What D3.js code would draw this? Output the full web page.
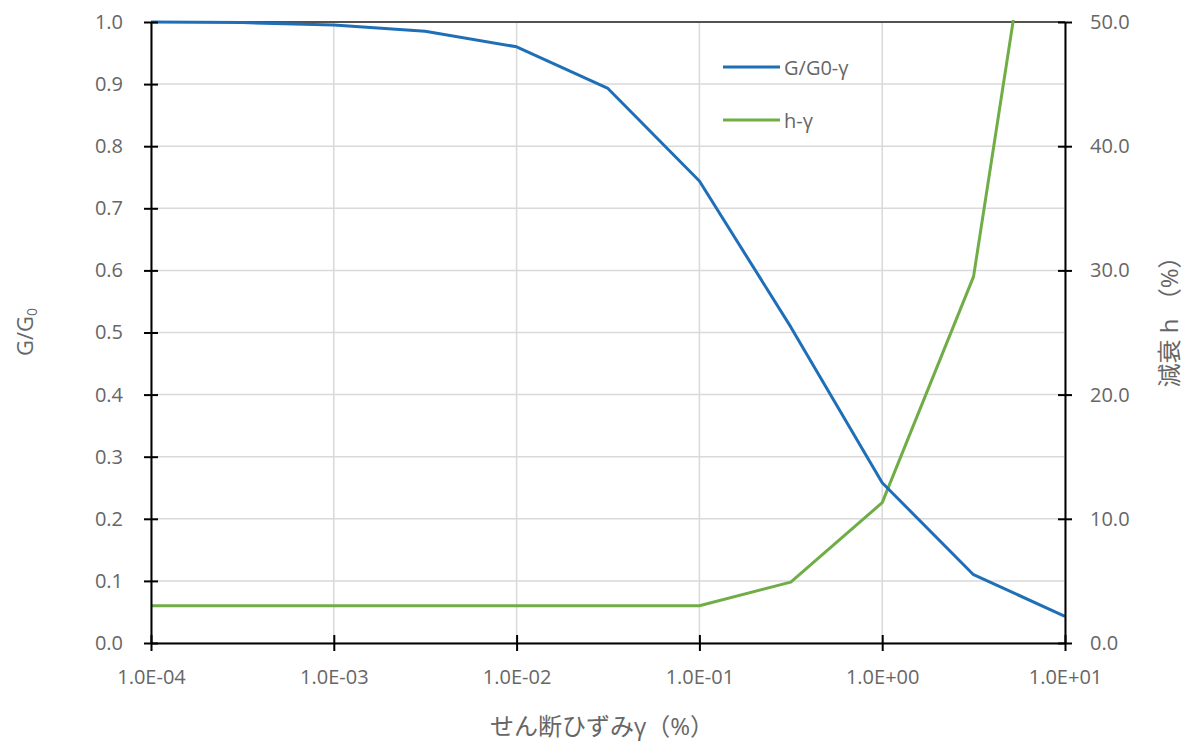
<!DOCTYPE html>
<html><head><meta charset="utf-8">
<script src="https://cdn.jsdelivr.net/npm/d3@7"></script>
<style>body{margin:0;background:#fff}svg text{font-family:"Open Sans","Noto Sans CJK JP",sans-serif;fill:#666}</style>
</head><body><svg id="c" width="1195" height="742"></svg>
<script>
const strain = [1e-4, 3.16e-4, 1e-3, 3.16e-3, 1e-2, 3.16e-2, 1e-1, 3.16e-1, 1, 3.16, 10];
const gRatio = [1.0, 0.999, 0.995, 0.985, 0.96, 0.893, 0.744, 0.509, 0.258, 0.11, 0.043];
const damping = [3.0, 3.0, 3.0, 3.0, 3.0, 3.0, 3.0, 4.9, 11.3, 29.5, 77];
const xTicks = [1e-4, 1e-3, 1e-2, 1e-1, 1, 10];
const xTickLabels = ["1.0E-04","1.0E-03","1.0E-02","1.0E-01","1.0E+00","1.0E+01"];
const yTicks = [0,0.1,0.2,0.3,0.4,0.5,0.6,0.7,0.8,0.9,1.0];
const y2Ticks = [0,10,20,30,40,50];
const seriesNames = ["G/G0-γ","h-γ"];

const svg = d3.select("#c");
const L=151, R=1065, T=22, B=643;
const x = d3.scaleLog().domain([1e-4,10]).range([L,R]);
const y = d3.scaleLinear().domain([0,1]).range([B,T]);
const y2 = d3.scaleLinear().domain([0,50]).range([B,T]);

// grid
svg.append("g").selectAll("line").data(yTicks).join("line")
  .attr("x1",L).attr("x2",R).attr("y1",d=>y(d)).attr("y2",d=>y(d))
  .attr("stroke","#d9d9d9").attr("stroke-width",1.5);
svg.append("g").selectAll("line").data(xTicks).join("line")
  .attr("x1",d=>x(d)).attr("x2",d=>x(d)).attr("y1",T).attr("y2",B)
  .attr("stroke","#d9d9d9").attr("stroke-width",1.5);
svg.append("line").attr("x1",L).attr("x2",R).attr("y1",T).attr("y2",T).attr("stroke","#222").attr("stroke-width",1.5);

// clip
svg.append("clipPath").attr("id","pc").append("rect").attr("x",L).attr("y",T-2).attr("width",R-L).attr("height",B-T+4);

const line1 = d3.line().x((d,i)=>x(strain[i])).y(d=>y(d));
const line2 = d3.line().x((d,i)=>x(strain[i])).y(d=>y2(d));
svg.append("path").attr("d",line2(damping)).attr("fill","none").attr("stroke","#70ad47").attr("stroke-width",3).attr("clip-path","url(#pc)").attr("stroke-linejoin","round");
svg.append("path").attr("d",line1(gRatio)).attr("fill","none").attr("stroke","#1f6fb8").attr("stroke-width",3).attr("clip-path","url(#pc)").attr("stroke-linejoin","round");

// axes
function style(g){
  g.select(".domain").attr("stroke","#000").attr("stroke-width",2);
  g.selectAll(".tick line").attr("stroke","#000").attr("stroke-width",2);
  g.selectAll(".tick text").style("font-size","20px").attr("fill","#666");
}
const ax = svg.append("g").attr("transform",`translate(0,${B})`)
  .call(d3.axisBottom(x).tickValues(xTicks).tickFormat((d,i)=>xTickLabels[i]).tickSizeOuter(0).tickSizeInner(8).tickPadding(19));
style(ax);
ax.selectAll(".tick line").attr("y1",-8);
const ayl = svg.append("g").attr("transform",`translate(${L},0)`)
  .call(d3.axisLeft(y).tickValues(yTicks).tickFormat(d3.format(".1f")).tickSizeOuter(0).tickSizeInner(7).tickPadding(21));
style(ayl);
ayl.selectAll(".tick line").attr("x1",7);
const ayr = svg.append("g").attr("transform",`translate(${R},0)`)
  .call(d3.axisRight(y2).tickValues(y2Ticks).tickFormat(d3.format(".1f")).tickSizeOuter(0).tickSizeInner(7).tickPadding(18));
style(ayr);
ayr.selectAll(".tick line").attr("x1",-7);

// axis titles
svg.append("text").attr("x",602).attr("y",735).attr("text-anchor","middle").style("font-size","24px").text("せん断ひずみγ（%）");
const yt = svg.append("text").attr("transform","translate(33,332) rotate(-90)").attr("text-anchor","middle").style("font-size","22px");
yt.append("tspan").text("G/G");
yt.append("tspan").attr("dy",4).style("font-size","14px").text("0");
svg.append("text").attr("transform","translate(1178,316) rotate(-90)").attr("text-anchor","middle").style("font-size","24px").text("減衰 h （%）");

// legend
const colors=["#1f6fb8","#70ad47"];
const leg = svg.append("g");
seriesNames.forEach((n,i)=>{
  const yy = 67 + i*53;
  leg.append("line").attr("x1",723).attr("x2",780).attr("y1",yy).attr("y2",yy).attr("stroke",colors[i]).attr("stroke-width",3);
  leg.append("text").attr("x",784).attr("y",yy+8).style("font-size","20px").text(n);
});
</script></body></html>
